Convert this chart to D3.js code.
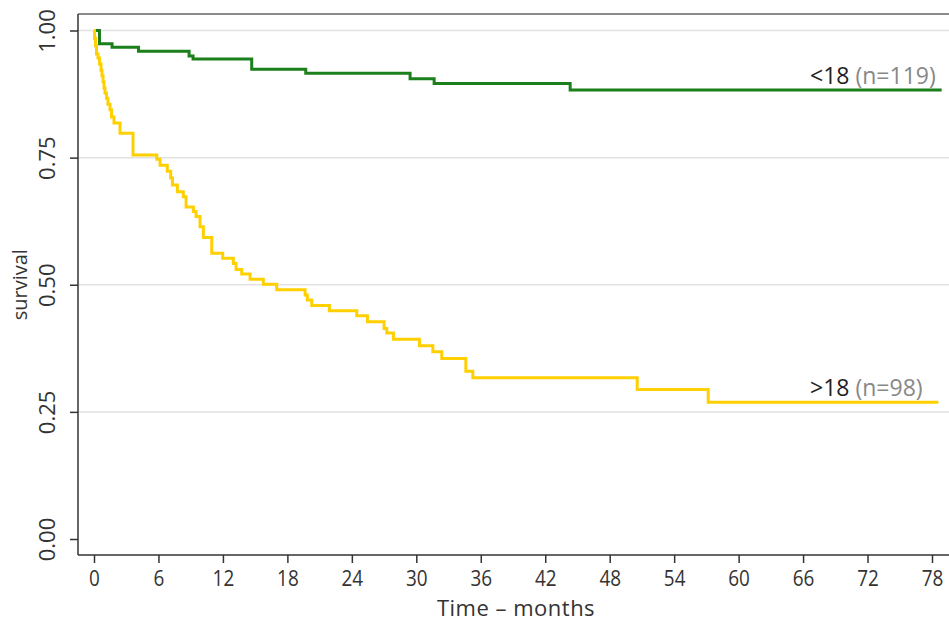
<!DOCTYPE html>
<html><head><meta charset="utf-8">
<script src="https://cdn.jsdelivr.net/npm/d3@7"></script>
<style>
html,body{margin:0;padding:0;background:#fff;}
svg{display:block;}
</style></head>
<body>
<svg id="chart" width="949" height="622"></svg>
<script>
// ---- data ----
const groupLabels = ["<18", ">18"];
const groupCounts = ["(n=119)", "(n=98)"];
// Kaplan-Meier steps: [time (months), survival after event]
const under18 = [
  [0,1.0],[0.51,0.974],[1.68,0.967],[4.14,0.959],[8.85,0.950],[9.22,0.944],
  [14.68,0.924],[19.71,0.916],[29.42,0.905],[31.66,0.896],[44.32,0.883],[78.9,0.883]
];
const over18 = [
  [0,1.0],[0.05,0.985],[0.14,0.970],[0.23,0.954],[0.37,0.946],[0.51,0.934],[0.65,0.922],
  [0.74,0.911],[0.84,0.899],[0.93,0.887],[1.02,0.877],[1.16,0.867],[1.30,0.855],
  [1.49,0.844],[1.63,0.830],[1.86,0.818],[2.42,0.798],[3.63,0.755],
  [5.84,0.747],[6.15,0.735],[6.82,0.723],[7.14,0.710],[7.30,0.696],[7.76,0.683],
  [8.31,0.673],[8.57,0.653],[9.25,0.644],[9.50,0.634],[9.87,0.614],[10.18,0.593],
  [10.96,0.562],[11.98,0.552],[12.97,0.542],[13.22,0.530],[13.75,0.521],[14.53,0.511],
  [15.76,0.501],[17.01,0.490],[19.65,0.480],[19.85,0.470],[20.27,0.459],[21.91,0.449],
  [24.46,0.439],[25.45,0.427],[27.00,0.414],[27.25,0.405],[27.87,0.393],[30.29,0.380],
  [31.54,0.368],[32.37,0.355],[34.61,0.330],[35.26,0.317],[50.56,0.294],[57.17,0.269],
  [78.6,0.269]
];
const xTicks = [0,6,12,18,24,30,36,42,48,54,60,66,72,78];
const yTicks = [0,0.25,0.5,0.75,1.0];
const gridValues = [0.25,0.5,0.75,1.0];
const seriesColors = ["#1b7f1b", "#ffd000"];

// ---- layout ----
const svg = d3.select("#chart");
const frame = {left:78, top:14, right:949, bottom:555};
const x = d3.scaleLinear().domain([0,78]).range([94,932]);
const y = d3.scaleLinear().domain([0,1]).range([539,30.5]);

// gridlines
svg.append("g").selectAll("line").data(gridValues).join("line")
  .attr("x1", frame.left).attr("x2", frame.right)
  .attr("y1", d=>y(d)).attr("y2", d=>y(d))
  .attr("stroke", "#e2e2e2").attr("stroke-width", 1.5);

// frame top line
svg.append("line").attr("x1",frame.left).attr("x2",frame.right).attr("y1",frame.top).attr("y2",frame.top)
  .attr("stroke","#666").attr("stroke-width",1.5);

// y axis
const yAxis = d3.axisLeft(y).tickValues(yTicks).tickFormat(d3.format(".2f")).tickSize(8).tickPadding(0);
const gy = svg.append("g").attr("transform", `translate(${frame.left},0)`).call(yAxis);
gy.select(".domain").attr("d", `M0,${frame.top}V${frame.bottom}`).attr("stroke","#333").attr("stroke-width",1.5);
gy.selectAll(".tick line").attr("stroke","#333").attr("stroke-width",1.5);
gy.selectAll(".tick text")
  .attr("x", null).attr("dy", null)
  .attr("transform", "translate(-23,0) rotate(-90)")
  .attr("text-anchor","middle")
  .attr("font-family","'Open Sans', sans-serif").attr("font-size", 22).attr("fill","#333");

// x axis
const xAxis = d3.axisBottom(x).tickValues(xTicks).tickSize(8).tickPadding(0);
const gx = svg.append("g").attr("transform", `translate(0,${frame.bottom})`).call(xAxis);
gx.select(".domain").attr("d", `M${frame.left},0H${frame.right}`).attr("stroke","#333").attr("stroke-width",1.5);
gx.selectAll(".tick line").attr("stroke","#333").attr("stroke-width",1.5);
gx.selectAll(".tick text").attr("y", 31).attr("dy", null)
  .attr("transform", "scale(0.86,1)")
  .attr("font-family","'Open Sans', sans-serif").attr("font-size", 22).attr("fill","#333");

// axis titles
svg.append("text").attr("x", (x(0)+x(78))/2 + 3).attr("y", 616).attr("text-anchor","middle")
  .attr("font-family","'Open Sans', sans-serif").attr("font-size",22).attr("fill","#333")
  .attr("letter-spacing", 0.5)
  .text("Time \u2013 months");
svg.append("text").attr("transform", `translate(27,${y(0.5)}) rotate(-90)`).attr("text-anchor","middle")
  .attr("font-family","'Open Sans', sans-serif").attr("font-size",20).attr("fill","#333")
  .text("survival");

// survival step curves
const line = d3.line().x(d=>x(d[0])).y(d=>y(d[1])).curve(d3.curveStepAfter);
[under18, over18].forEach((s,i)=>{
  svg.append("path").datum(s).attr("d", line).attr("fill","none")
    .attr("stroke", seriesColors[i]).attr("stroke-width", 3).attr("stroke-linejoin","miter");
});

// labels
const labelY = [under18[under18.length-1][1], over18[over18.length-1][1]];
groupLabels.forEach((g,i)=>{
  const t = svg.append("text").attr("x", 810).attr("y", y(labelY[i]) - 6)
    .attr("font-family","'Open Sans', sans-serif").attr("font-size",23);
  t.append("tspan").attr("fill","#222").text(g + " ");
  t.append("tspan").attr("fill","#888").text(groupCounts[i]);
});
</script>
</body></html>
